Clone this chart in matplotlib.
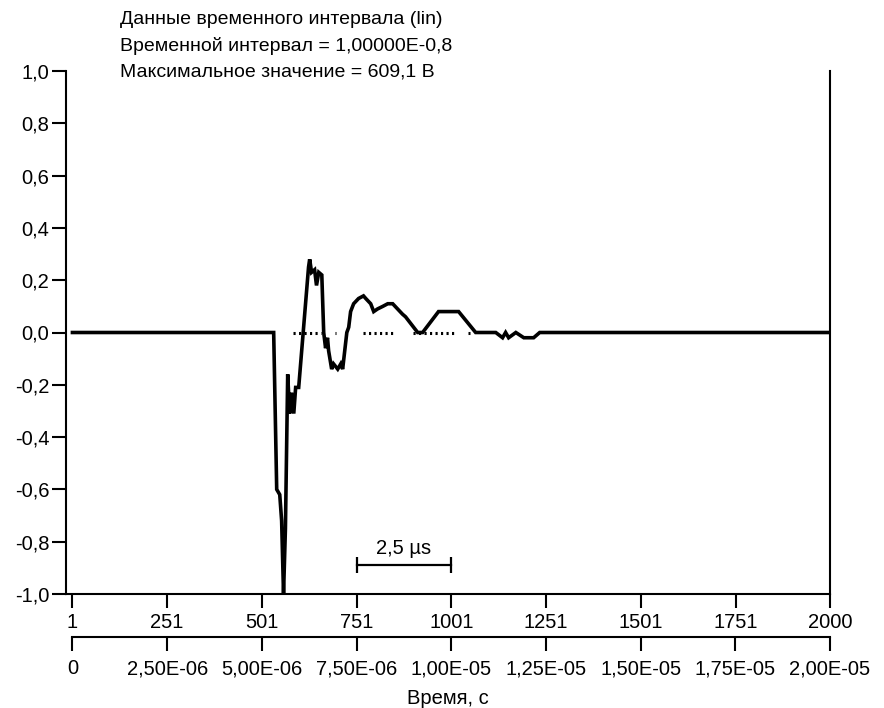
import numpy as np
import matplotlib
matplotlib.use("Agg")
import matplotlib.pyplot as plt

plt.rcParams['font.family'] = ['Liberation Sans', 'DejaVu Sans']

# signal, sample number vs normalised value
sample = [1, 532, 540, 548, 553, 558, 563, 569, 574, 579, 585, 590, 598,
          624, 627, 632, 640, 645, 651, 659, 664, 669, 674, 677, 685, 690,
          701, 709, 714, 725, 730, 735, 743, 756, 769, 775, 788, 796, 806,
          820, 833, 846, 859, 872, 880, 912, 925, 967, 1020, 1065, 1118,
          1136, 1144, 1152, 1171, 1192, 1218, 1234, 2000]
value = [0.0, 0.0, -0.60, -0.62, -0.72, -1.0, -0.75, -0.16, -0.31, -0.23, -0.31, -0.21, -0.21,
         0.25, 0.28, 0.23, 0.24, 0.18, 0.23, 0.22, 0.0, -0.06, -0.02, -0.07, -0.14, -0.12,
         -0.14, -0.12, -0.14, 0.0, 0.02, 0.08, 0.11, 0.13, 0.14, 0.13, 0.11, 0.08, 0.09,
         0.10, 0.11, 0.11, 0.09, 0.07, 0.06, 0.0, 0.0, 0.08, 0.08, 0.0, 0.0,
         -0.02, 0.0, -0.02, 0.0, -0.02, -0.02, 0.0, 0.0]

# dotted zero reference pieces
dot_start = [582, 693, 769, 899, 1045]
dot_end = [656, 697, 854, 1007, 1049]

y_ticks = [-1.0, -0.8, -0.6, -0.4, -0.2, 0.0, 0.2, 0.4, 0.6, 0.8, 1.0]
y_labels = ['-1,0', '-0,8', '-0,6', '-0,4', '-0,2', '0,0', '0,2', '0,4', '0,6', '0,8', '1,0']
n_ticks = [1, 251, 501, 751, 1001, 1251, 1501, 1751, 2000]
t_ticks = [0, 2.5e-6, 5e-6, 7.5e-6, 1e-5, 1.25e-5, 1.5e-5, 1.75e-5, 2e-5]
t_labels = ['0', '2,50E-06', '5,00E-06', '7,50E-06', '1,00E-05', '1,25E-05',
            '1,50E-05', '1,75E-05', '2,00E-05']

header = ['Данные временного интервала (lin)',
          'Временной интервал = 1,00000E-0,8',
          'Максимальное значение = 609,1 В']

fs = 14.5

fig = plt.figure(figsize=(8.84, 7.08), dpi=100)
ax = fig.add_axes([66/884, 1 - 594/708, (830-66)/884, (594-71)/708])

ax.hlines([0]*len(dot_start), dot_start, dot_end, colors='black',
          linestyles=(0, (0.7, 1.1)), linewidth=2.2, zorder=2)
ax.plot(sample, value, color='black', linewidth=2.6, zorder=3, solid_joinstyle='miter')

# scale bar 2,5 us
ax.errorbar([751, 1001], [-0.89, -0.89], yerr=0.03, color='black',
            linewidth=1.6, capsize=0, elinewidth=1.6)
ax.text(876, -0.825, '2,5 µs', ha='center', va='center', fontsize=fs)

ax.set_xlim(-16, 2000)
ax.set_ylim(-1, 1)
ax.spines['top'].set_visible(False)
for s in ['left', 'right', 'bottom']:
    ax.spines[s].set_linewidth(1.5)
ax.set_yticks(y_ticks)
ax.set_yticklabels(y_labels)
ax.set_xticks(n_ticks)
ax.set_xticklabels([str(n) for n in n_ticks])
ax.tick_params(axis='both', direction='out', length=10, width=1.5, labelsize=fs, pad=2)
ax.tick_params(axis='x', pad=4)

# second (time) axis under the sample axis
def n2t(n):
    return (np.asarray(n, dtype=float) - 1) / 1999 * 2e-5

ax2 = ax.twiny()
ax2.set_xlim(n2t(-16), n2t(2000))
ax2.xaxis.set_ticks_position('bottom')
ax2.xaxis.set_label_position('bottom')
ax2.spines['bottom'].set_position(('outward', 31))
ax2.spines['bottom'].set_bounds(0, 2e-5)
ax2.spines['bottom'].set_linewidth(1.5)
for s in ['top', 'left', 'right']:
    ax2.spines[s].set_visible(False)
ax2.set_xticks(t_ticks)
ax2.set_xticklabels(t_labels)
ax2.tick_params(axis='x', direction='out', length=10, width=1.5, labelsize=fs, pad=6)
ax2.set_xlabel('Время, с', fontsize=fs, labelpad=8)

for i, line in enumerate(header):
    fig.text(120/884, 1 - (20 + 26*i)/708, line, ha='left', va='center', fontsize=14)

fig.savefig('out.png', dpi=100)
